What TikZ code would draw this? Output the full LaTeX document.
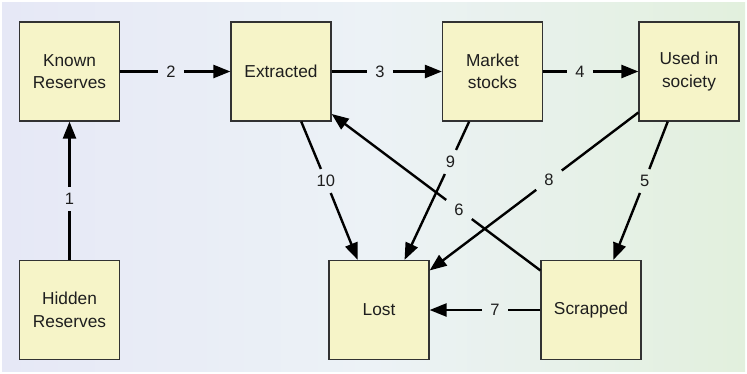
\documentclass[tikz,border=0pt]{standalone}
\usepackage{fontspec}
\setmainfont{Liberation Sans}
\usetikzlibrary{arrows.meta}
\definecolor{bgL}{RGB}{230,232,246}
\definecolor{bgM}{RGB}{236,242,246}
\definecolor{bgR}{RGB}{226,240,221}
\definecolor{boxfill}{RGB}{246,244,200}
\definecolor{boxline}{RGB}{50,50,50}
\definecolor{txt}{RGB}{30,30,30}
\begin{document}
\begin{tikzpicture}[x=1pt,y=-1pt,
  stock/.style={draw=boxline, line width=1.2pt, fill=boxfill, minimum width=100pt,
    minimum height=99pt, align=center, font=\fontsize{17.3}{22.5}\selectfont, text=txt, inner sep=0pt},
  num/.style={font=\fontsize{16.5}{18}\selectfont, text=txt, inner xsep=8pt, inner ysep=6pt},
  flow/.style={line width=2.4pt, -{Triangle[length=17pt,width=13pt]}},
  seg/.style={line width=2.4pt}]
\useasboundingbox (0,0) rectangle (747,373);
\shade[left color=bgL, right color=bgR, middle color=bgM] (2,2) rectangle (745,371);

\node[stock] (Known) at (69.5,71.5) {Known\\Reserves};
\node[stock] (Extracted) at (281,71.5) {Extracted};
\node[stock] (Market) at (492.5,71.5) {Market\\stocks};
\node[stock] (Used) at (689,71.5) {Used in\\society};
\node[stock] (Hidden) at (69.5,310) {Hidden\\Reserves};
\node[stock] (Lost) at (379,310) {Lost};
\node[stock] (Scrapped) at (591,310) {Scrapped};

\node[num] (l1) at (69.5,199) {1};
\node[num] (l2) at (171,71.5) {2};
\node[num] (l3) at (380,71.5) {3};
\node[num] (l4) at (580,71.5) {4};
\node[num] (l5) at (644.7,181) {5};
\node[num] (l6) at (459,209.5) {6};
\node[num] (l7) at (495,310) {7};
\node[num] (l8) at (549,180.2) {8};
\node[num] (l9) at (450.5,162) {9};
\node[num] (l10) at (325.9,181) {10};

\draw[seg] (Hidden.north) -- (l1);  \draw[flow] (l1) -- (Known.south);
\draw[seg] (Known.east) -- (l2);    \draw[flow] (l2) -- (Extracted.west);
\draw[seg] (Extracted.east) -- (l3); \draw[flow] (l3) -- (Market.west);
\draw[seg] (Market.east) -- (l4);   \draw[flow] (l4) -- (Used.west);
\draw[seg] (Used.247.7) -- (l5);    \draw[flow] (l5) -- (Scrapped.66);
\draw[seg] (Scrapped.142) -- (l6);  \draw[flow] (l6) -- (Extracted.-40);
\draw[seg] (Scrapped.west) -- (l7); \draw[flow] (l7) -- (Lost.east);
\draw[seg] (Used.219) -- (l8);      \draw[flow] (l8) -- (Lost.38);
\draw[seg] (Market.245.5) -- (l9);  \draw[flow] (l9) -- (Lost.63);
\draw[seg] (Extracted.292.7) -- (l10); \draw[flow] (l10) -- (Lost.113);
\end{tikzpicture}
\end{document}
